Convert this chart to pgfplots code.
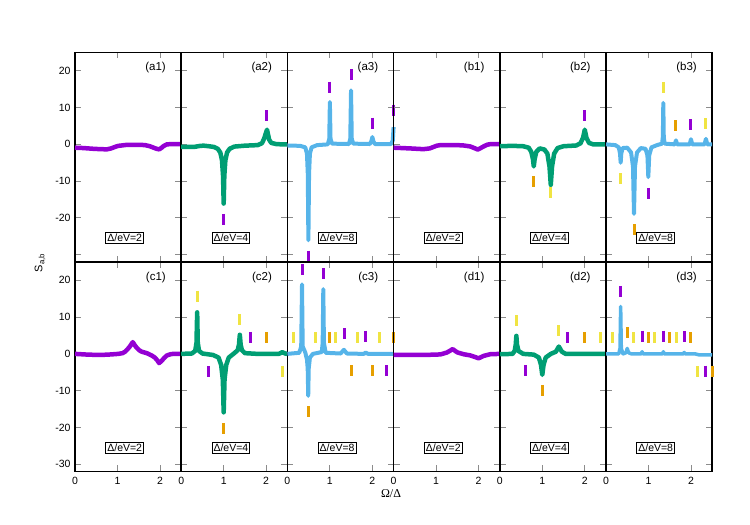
\documentclass[border=0pt]{standalone}
\usepackage{fontspec}
\setmainfont{Liberation Sans}
\newfontfamily\serifgreek{Liberation Serif}
\usepackage{pgfplots}
\pgfplotsset{compat=1.18}

\definecolor{cpurple}{HTML}{9400D3}
\definecolor{cgreen}{HTML}{009E73}
\definecolor{cblue}{HTML}{56B4E9}
\definecolor{corange}{HTML}{E69F00}
\definecolor{cyellow}{HTML}{F0E442}

\pgfplotsset{
  panel/.style={
    at={#1}, anchor=south west, scale only axis,
    width=106.2pt, height=209.5pt,
    xmin=0, xmax=2.5, ymin=-32, ymax=25, clip=false,
    xtick={0,1,2}, ytick={-30,-20,-10,0,10,20},
    xticklabels={}, yticklabels={},
    tick align=inside, major tick length=6pt,
    every tick/.style={black!45, line width=0.8pt},
    axis line style={line width=1.5pt},
    ticklabel style={font=\fontsize{10.5}{12}\selectfont},
    xticklabel style={yshift=-2pt},
    yticklabel style={xshift=-1pt},
  },
  curve/.style={line width=4.5pt, line join=round, #1, no markers},
  bars/.style={only marks, mark=|, mark size=5.5pt, #1,
    mark options={line width=3pt, #1}},
  bottomx/.style={xticklabels={0,1,2}},
}
\newcommand{\paneltag}[1]{\node[anchor=east, font=\fontsize{11.5}{13}\selectfont] at (axis cs:2.22,20.8) {#1};}
\newcommand{\gapbox}[1]{\node[draw, line width=0.8pt, inner sep=1.6pt, font=\fontsize{10.5}{12}\selectfont] at (axis cs:1.17,-25.5) {Δ/eV=#1};}

\begin{document}
\begin{tikzpicture}
\path[use as bounding box] (0pt,0pt) rectangle (750pt,525pt);

% ---------------- row a/b ----------------
\begin{axis}[panel={(75pt,263pt)}, yticklabels={,-20,-10,0,10,20}]
\addplot[curve=cpurple] coordinates {(0,-0.9) (0.2,-1.0) (0.43,-1.2) (0.6,-1.3) (0.75,-1.35) (0.85,-1.1) (0.94,-0.7) (1.02,-0.4) (1.1,-0.3) (1.2,-0.15) (1.5,-0.1) (1.65,-0.2) (1.76,-0.5) (1.85,-0.9) (1.92,-1.2) (1.98,-1.35) (2.03,-1.0) (2.08,-0.5) (2.16,0) (2.3,0.1) (2.5,0.1)};
\paneltag{(a1)}
\gapbox{2}
\end{axis}

\begin{axis}[panel={(181.2pt,263pt)}]
\addplot[curve=cgreen] coordinates {(0,-0.7) (0.3,-0.7) (0.45,-0.4) (0.53,-0.35) (0.65,-0.5) (0.77,-0.7) (0.86,-1.2) (0.92,-2.2) (0.96,-4.3) (0.985,-8.5) (1.0,-16.1) (1.015,-8.5) (1.04,-4.3) (1.08,-2.2) (1.14,-1.2) (1.25,-0.6) (1.5,-0.35) (1.8,-0.2) (1.9,0.3) (1.95,1.5) (2.02,4.0) (2.07,1.3) (2.12,0.4) (2.25,0.05) (2.5,0)};
\addplot[bars=cpurple] coordinates {(2.0,7.8) (1.0,-20.4)};
\paneltag{(a2)}
\gapbox{4}
\end{axis}

\begin{axis}[panel={(287.4pt,263pt)}]
\addplot[curve=cblue, line width=4pt] coordinates {(0,-0.3) (0.3,-0.4) (0.42,-0.8) (0.46,-2.5) (0.48,-8) (0.494,-26.1) (0.51,-8) (0.53,-2.5) (0.57,-0.8) (0.7,-0.2) (0.95,0) (0.985,1.5) (1.0,11.5) (1.015,1.5) (1.05,0.2) (1.45,0.1) (1.48,1.5) (1.498,14.7) (1.515,1.5) (1.55,0.2) (1.94,0.1) (1.975,0.8) (2.0,2.0) (2.025,0.8) (2.06,0.1) (2.44,0.1) (2.48,1.0) (2.5,4.7)};
\addplot[bars=cpurple] coordinates {(0.5,-30.4) (1.0,15.6) (1.5,19.0) (2.0,5.8) (2.5,9.3)};
\paneltag{(a3)}
\gapbox{8}
\end{axis}

\begin{axis}[panel={(393.6pt,263pt)}]
\addplot[curve=cpurple] coordinates {(0,-0.9) (0.39,-1.1) (0.7,-1.3) (0.85,-1.1) (0.94,-0.7) (1.02,-0.35) (1.1,-0.2) (1.5,-0.2) (1.65,-0.3) (1.8,-0.55) (1.9,-1.0) (1.98,-1.4) (2.05,-1.0) (2.12,-0.55) (2.2,-0.1) (2.27,0.05) (2.5,0.1)};
\paneltag{(b1)}
\gapbox{2}
\end{axis}

\begin{axis}[panel={(499.8pt,263pt)}]
\addplot[curve=cgreen] coordinates {(0,-0.5) (0.3,-0.4) (0.55,-0.5) (0.68,-0.9) (0.74,-2) (0.78,-4) (0.8,-6.0) (0.82,-4) (0.86,-2) (0.94,-1.1) (1.05,-1.4) (1.12,-2.5) (1.17,-6) (1.2,-11.0) (1.23,-6) (1.28,-2.5) (1.36,-1.0) (1.5,-0.5) (1.8,-0.3) (1.9,0.3) (1.96,1.8) (2.0,4.0) (2.04,1.8) (2.1,0.4) (2.2,0) (2.5,0)};
\addplot[bars=corange] coordinates {(0.8,-10.2)};
\addplot[bars=cyellow] coordinates {(1.2,-13.1)};
\addplot[bars=cpurple] coordinates {(2.0,7.8)};
\paneltag{(b2)}
\gapbox{4}
\end{axis}

\begin{axis}[panel={(606pt,263pt)}]
\addplot[curve=cblue, line width=4pt] coordinates {(0,0) (0.22,-0.2) (0.3,-0.8) (0.33,-2.5) (0.345,-5.0) (0.36,-2.5) (0.39,-1.0) (0.5,-0.9) (0.59,-2.2) (0.635,-6) (0.659,-18.9) (0.683,-6) (0.73,-2.2) (0.82,-1.0) (0.93,-1.2) (0.975,-3) (0.996,-8.9) (1.017,-3) (1.07,-0.8) (1.2,-0.2) (1.32,0.2) (1.338,2) (1.349,11.3) (1.36,2) (1.38,0.2) (1.62,0) (1.647,1.1) (1.675,0) (1.97,0) (2.0,1.4) (2.03,0) (2.32,0) (2.353,1.5) (2.385,0) (2.5,0)};
\addplot[bars=cyellow] coordinates {(0.345,-9.3) (1.35,15.5) (2.353,5.6)};
\addplot[bars=corange] coordinates {(0.659,-23.2) (1.647,5.1)};
\addplot[bars=cpurple] coordinates {(0.996,-13.3) (2.0,5.3)};
\paneltag{(b3)}
\gapbox{8}
\end{axis}

% ---------------- row c/d ----------------
\begin{axis}[panel={(75pt,53.5pt)}, bottomx, yticklabels={-30,-20,-10,0,10,20}]
\addplot[curve=cpurple] coordinates {(0,0) (0.3,-0.2) (0.59,-0.3) (0.85,-0.15) (1.02,0) (1.12,0.2) (1.18,0.6) (1.24,1.3) (1.29,2.0) (1.36,3.2) (1.41,2.3) (1.45,1.7) (1.51,1.0) (1.57,0.6) (1.69,0.2) (1.8,-0.4) (1.88,-1.0) (1.94,-1.8) (1.98,-2.5) (2.04,-1.9) (2.1,-1.1) (2.16,-0.45) (2.25,-0.1) (2.31,0) (2.5,0)};
\paneltag{(c1)}
\gapbox{2}
\end{axis}

\begin{axis}[panel={(181.2pt,53.5pt)}, bottomx]
\addplot[curve=cgreen] coordinates {(0,0) (0.25,0.1) (0.33,0.8) (0.36,3) (0.376,11.3) (0.39,3) (0.42,0.8) (0.5,0.1) (0.75,-0.3) (0.88,-1) (0.94,-3) (0.98,-7) (1.0,-15.9) (1.02,-7) (1.06,-3) (1.12,-1) (1.25,0.2) (1.33,1) (1.36,2.5) (1.38,5.2) (1.40,2.5) (1.43,1) (1.5,0.2) (1.8,0) (2.3,0) (2.38,0.45) (2.45,0.1) (2.5,0)};
\addplot[bars=cyellow] coordinates {(0.376,15.7) (1.38,9.4) (2.38,-4.7)};
\addplot[bars=cpurple] coordinates {(0.635,-4.9) (1.63,4.5)};
\addplot[bars=corange] coordinates {(1.0,-20.3) (2.0,4.5)};
\paneltag{(c2)}
\gapbox{4}
\end{axis}

\begin{axis}[panel={(287.4pt,53.5pt)}, bottomx]
\addplot[curve=cblue, line width=4pt] coordinates {(0,0) (0.28,0.3) (0.325,2) (0.344,18.9) (0.36,2) (0.42,0.4) (0.46,-1.5) (0.478,-4) (0.49,-11.4) (0.502,-4) (0.53,-1) (0.6,0) (0.81,0.5) (0.83,3) (0.845,17.6) (0.86,3) (0.9,0.3) (1.25,0.1) (1.33,1.1) (1.4,0.1) (1.8,0) (1.84,0.35) (1.9,0) (2.5,0)};
\addplot[bars=cyellow] coordinates {(0.155,4.5) (0.65,4.4) (1.14,4.4) (1.65,4.4) (2.16,4.4)};
\addplot[bars=cpurple] coordinates {(0.344,22.9) (0.845,21.8) (1.34,5.5) (1.84,4.8) (2.34,-4.6)};
\addplot[bars=corange] coordinates {(0.49,-15.8) (1.0,4.4) (1.5,-4.6) (2.0,-4.6) (2.5,4.4)};
\paneltag{(c3)}
\gapbox{8}
\end{axis}

\begin{axis}[panel={(393.6pt,53.5pt)}, bottomx]
\addplot[curve=cpurple] coordinates {(0,-0.3) (0.7,-0.3) (1.1,-0.15) (1.25,0.35) (1.32,0.8) (1.39,1.3) (1.45,0.8) (1.5,0.4) (1.65,-0.1) (1.8,-0.4) (1.88,-0.7) (2.0,-1.2) (2.12,-0.55) (2.27,-0.1) (2.5,0)};
\paneltag{(d1)}
\gapbox{2}
\end{axis}

\begin{axis}[panel={(499.8pt,53.5pt)}, bottomx]
\addplot[curve=cgreen] coordinates {(0,-0.1) (0.3,0) (0.35,0.8) (0.375,2.5) (0.39,4.9) (0.405,2.5) (0.44,0.8) (0.55,0) (0.8,-0.2) (0.92,-1) (0.97,-3) (1.0,-5.7) (1.03,-3) (1.08,-1) (1.2,0) (1.32,0.6) (1.39,2.0) (1.46,0.6) (1.55,0) (2.5,0)};
\addplot[bars=cyellow] coordinates {(0.39,9.0) (1.39,6.3) (2.38,4.4)};
\addplot[bars=cpurple] coordinates {(0.596,-4.6) (1.59,4.4)};
\addplot[bars=corange] coordinates {(1.0,-9.9) (2.0,4.4)};
\paneltag{(d2)}
\gapbox{4}
\end{axis}

\begin{axis}[panel={(606pt,53.5pt)}, bottomx]
\addplot[curve=cblue, line width=3.5pt] coordinates {(0,0) (0.3,0) (0.33,1.5) (0.345,12.9) (0.36,1.5) (0.4,0) (0.47,0.3) (0.5,1.5) (0.53,0.3) (0.6,0) (0.83,0) (0.85,0.6) (0.87,0) (1.33,0) (1.35,0.6) (1.37,0) (1.82,0) (1.84,0.4) (1.86,0) (2.1,0) (2.2,-0.3) (2.5,-0.3)};
\addplot[bars=cyellow] coordinates {(0.15,4.4) (0.65,4.4) (1.15,4.4) (1.65,4.4) (2.15,-4.9)};
\addplot[bars=cpurple] coordinates {(0.345,17.0) (0.85,4.8) (1.35,4.8) (1.84,4.6) (2.35,-4.7)};
\addplot[bars=corange] coordinates {(0.5,5.7) (1.0,4.4) (1.5,4.4) (2.0,4.4) (2.5,-4.7)};
\paneltag{(d3)}
\gapbox{8}
\end{axis}

% axis titles
\node[rotate=90, font=\fontsize{11}{13}\selectfont] at (40pt,262pt) {S\textsubscript{a,b}};
\node[font=\fontsize{12}{14}\serifgreek] at (391pt,31pt) {Ω/Δ};
\end{tikzpicture}
\end{document}
